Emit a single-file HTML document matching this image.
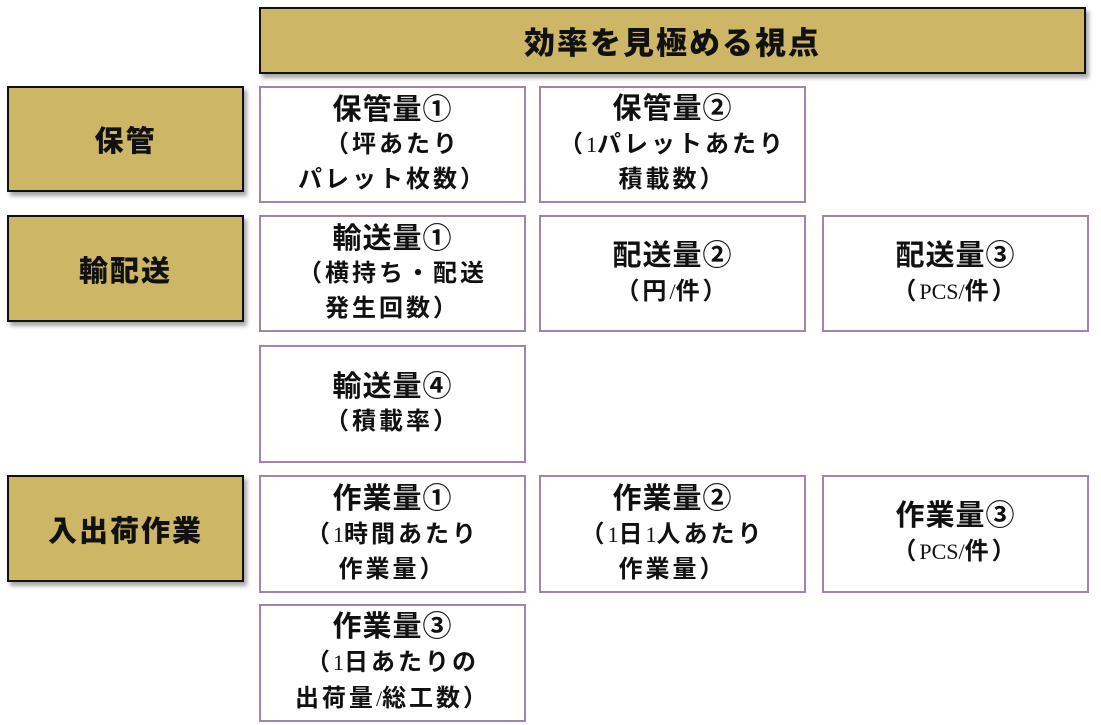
<!DOCTYPE html>
<html><head><meta charset="utf-8"><style>
body{margin:0;width:1101px;height:725px;background:#fff;position:relative;overflow:hidden;font-family:"Liberation Sans","Noto Sans CJK JP",sans-serif;}
.g{position:absolute;background:#CDB766;border:2px solid #111;box-sizing:border-box;box-shadow:3px 4px 4px rgba(0,0,0,0.35);display:flex;align-items:center;justify-content:center;font-weight:900;font-size:29px;color:#111;letter-spacing:2px;}
.b{position:absolute;border:2px solid #9E84B5;box-sizing:border-box;background:#fff;display:flex;flex-direction:column;align-items:center;justify-content:center;color:#111;text-align:center;}
.b .t{font-size:29px;font-weight:700;line-height:36px;letter-spacing:1px;}
.b .s{font-size:24px;font-weight:700;line-height:35px;letter-spacing:3px;font-family:"Liberation Serif","Noto Sans CJK JP",sans-serif;}
.s .n{font-weight:400;font-size:22px;letter-spacing:0}
.c1{left:259px;width:267px}.c2{left:539px;width:267px}.c3{left:822px;width:267px}
</style></head><body>
<div class="g" style="left:259px;top:7px;width:827px;height:67px;font-size:31px;">効率を見極める視点</div>
<div class="g" style="left:7px;top:86px;width:237px;height:106px;">保管</div>
<div class="g" style="left:7px;top:215px;width:237px;height:107px;">輸配送</div>
<div class="g" style="left:7px;top:475px;width:237px;height:107px;">入出荷作業</div>

<div class="b c1" style="top:86px;height:117px"><div class="t">保管量①</div><div class="s">（坪あたり</div><div class="s">パレット枚数）</div></div>
<div class="b c2" style="top:86px;height:117px"><div class="t">保管量②</div><div class="s">（<span class="n">1</span>パレットあたり</div><div class="s">積載数）</div></div>

<div class="b c1" style="top:215px;height:117px"><div class="t">輸送量①</div><div class="s">（横持ち・配送</div><div class="s">発生回数）</div></div>
<div class="b c2" style="top:215px;height:117px"><div class="t">配送量②</div><div class="s">（円<span class="n">/</span>件）</div></div>
<div class="b c3" style="top:215px;height:117px"><div class="t">配送量③</div><div class="s">（<span class="n">PCS/</span>件）</div></div>

<div class="b c1" style="top:345px;height:118px"><div class="t">輸送量④</div><div class="s">（積載率）</div></div>

<div class="b c1" style="top:475px;height:118px"><div class="t">作業量①</div><div class="s">（<span class="n">1</span>時間あたり</div><div class="s">作業量）</div></div>
<div class="b c2" style="top:475px;height:118px"><div class="t">作業量②</div><div class="s">（<span class="n">1</span>日<span class="n">1</span>人あたり</div><div class="s">作業量）</div></div>
<div class="b c3" style="top:475px;height:118px"><div class="t">作業量③</div><div class="s">（<span class="n">PCS/</span>件）</div></div>

<div class="b c1" style="top:604px;height:118px"><div class="t">作業量③</div><div class="s">（<span class="n">1</span>日あたりの</div><div class="s">出荷量<span class="n">/</span>総工数）</div></div>
</body></html>
